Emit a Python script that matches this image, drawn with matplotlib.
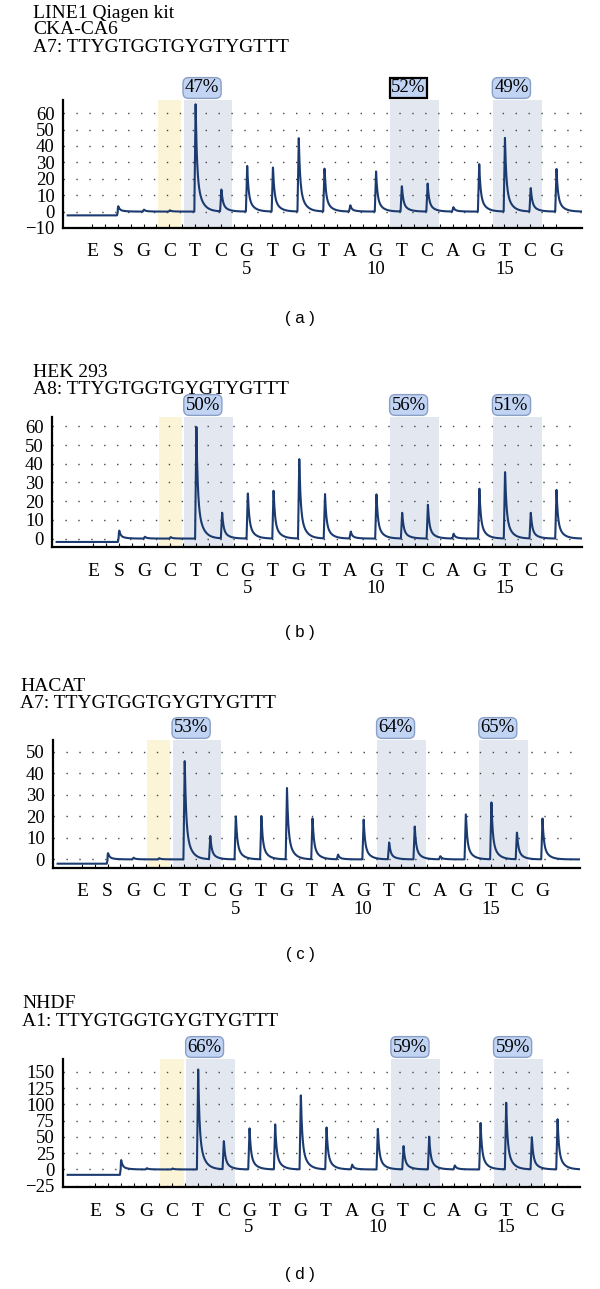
import numpy as np
import matplotlib.pyplot as plt
from matplotlib.transforms import blended_transform_factory

W, H = 600, 1289
SERIF = 'Liberation Serif'

# dispensation order and labels
bases = ['E', 'S', 'G', 'C', 'T', 'C', 'G', 'T', 'G', 'T', 'A', 'G', 'T', 'C', 'A', 'G', 'T', 'C', 'G']
pos = np.arange(1, len(bases) + 1)
numbered = {7: '5', 12: '10', 17: '15'}

# panel texts
titles = [
    ['LINE1 Qiagen kit', 'CKA-CA6', 'A7: TTYGTGGTGYGTYGTTT'],
    ['HEK 293', 'A8: TTYGTGGTGYGTYGTTT'],
    ['HACAT', 'A7: TTYGTGGTGYGTYGTTT'],
    ['NHDF', 'A1: TTYGTGGTGYGTYGTTT'],
]
captions = ['( a )', '( b )', '( c )', '( d )']

# peak heights per dispensation (E .. G)
heights_a = [0, 3.3, 1.2, 0.8, 65.8, 13.8, 28, 27.6, 45.6, 26.4, 3.9, 24.5, 16, 17.3, 2.7, 29.7, 45, 14.8, 26.2]
heights_b = [0, 4.4, 1.0, 0.8, 60, 14, 25, 26.3, 42.8, 23.9, 3.8, 24.6, 14.1, 18.1, 2.6, 27.4, 37, 14, 26]
heights_c = [0, 3.0, 0.8, 0.6, 46.7, 10.9, 20.8, 20.3, 33.8, 19.7, 2.2, 19, 8, 15.4, 1.5, 21.2, 26.9, 12.9, 19]
heights_d = [0, 14.5, 2, 1.5, 154, 44.6, 64.8, 69.4, 117, 66.3, 7.3, 64, 37, 50.8, 6.2, 74, 103.6, 50.3, 80]
heights = [heights_a, heights_b, heights_c, heights_d]

# level of the trace before the substrate step
start_level = [-2.3, -1.8, -2.0, -8.3]

# methylation percentages for the three CpG sites
pct = [['47%', '52%', '49%'], ['50%', '56%', '51%'], ['53%', '64%', '65%'], ['66%', '59%', '59%']]
highlighted = [(0, 1)]  # panel a, second site drawn with black frame

yticks = [np.arange(-10, 61, 10), np.arange(0, 61, 10), np.arange(0, 51, 10), np.arange(-25, 151, 25)]
ylims = [(-10, 68), (-4.5, 65), (-4, 55.5), (-27, 170)]

# pixel layout: left, right, top, bottom, E x, last G x, title x, title y's, caption y
layout = [
    (63, 582, 100, 228, 92, 556, 33, [14, 30, 47], 318),
    (52, 582, 417, 547, 93, 556, 33, [373, 390], 633),
    (53, 580, 740, 868, 82, 542, 20, [686, 703], 955),
    (63, 580, 1059, 1187, 95, 557, 22, [1004, 1022], 1275),
]

site_start = [4.55, 12.55, 16.55]
site_width = 1.9
ref_start, ref_end = 3.55, 4.45

fig = plt.figure(figsize=(W / 100, H / 100), dpi=100)

for k in range(4):
    left, right, top, bottom, ex, gx, tx, tys, cy = layout[k]
    unit = (gx - ex) / 18.0
    xlo = 1 - (ex - left) / unit
    xhi = 19 + (right - gx) / unit
    ax = fig.add_axes([left / W, 1 - bottom / H, (right - left) / W, (bottom - top) / H])
    ax.set_xlim(xlo, xhi)
    ax.set_ylim(*ylims[k])

    # shaded regions
    ax.axvspan(ref_start, ref_end, color='#fcf4d6', zorder=0, lw=0)
    for s in site_start:
        ax.axvspan(s, s + site_width, color='#e3e8f0', zorder=0, lw=0)

    # pyrogram trace built from the peak heights
    x = np.linspace(xlo + 0.18, xhi, 4000)
    y = np.where(x < 2, start_level[k], 0.0)
    for p, h in zip(pos, heights[k]):
        t = x - p
        rise = np.clip((t + 0.03) / 0.05, 0, 1)
        decay = np.where(t > 0.02, 0.65 * np.exp(-(t - 0.02) / 0.05) + 0.35 * np.exp(-(t - 0.02) / 0.2), 1.0)
        y = y + h * rise * decay
    ax.plot(x, y, color='#1b3b70', lw=1.5, zorder=3)

    # axes style
    for side in ['top', 'right']:
        ax.spines[side].set_visible(False)
    for side in ['left', 'bottom']:
        ax.spines[side].set_linewidth(1.6)
    ax.set_yticks(yticks[k])
    ax.set_yticklabels([('\u2212' + str(-v)) if v < 0 else str(v) for v in yticks[k]],
                       family=SERIF, fontsize=13.5)
    ax.tick_params(axis='y', length=0, pad=6)
    ax.set_xticks(pos)
    ax.set_xticks(pos[:-1] + 0.5, minor=True)
    ax.set_xticklabels([])
    ax.tick_params(axis='x', which='both', direction='in', length=3, width=0.8)
    ax.yaxis.grid(True, linestyle=(0, (1, 8.3)), color='#444444', lw=1.0)
    ax.set_axisbelow(True)

    # base letters and cycle numbers under the axis
    tr = blended_transform_factory(ax.transData, fig.transFigure)
    for p, b in zip(pos, bases):
        ax.text(p, 1 - (bottom + 24) / H, b, transform=tr, ha='center', va='center',
                family=SERIF, fontsize=14)
        if p in numbered:
            ax.text(p, 1 - (bottom + 41) / H, numbered[p], transform=tr, ha='center', va='center',
                    family=SERIF, fontsize=13.5)

    # percentage boxes
    for j, s in enumerate(site_start):
        if (k, j) in highlighted:
            bbox = dict(boxstyle='square,pad=0.08', fc='#c2d4f3', ec='black', lw=1.6)
        else:
            bbox = dict(boxstyle='round,pad=0.1,rounding_size=0.3', fc='#c2d4f3', ec='#8a9fc6', lw=1.0)
        ax.text(s + 0.72, 1 - (top - 12) / H, pct[k][j], transform=tr, ha='center', va='center',
                family=SERIF, fontsize=13.5, bbox=bbox, clip_on=False)

    # header lines and caption
    for line, ty in zip(titles[k], tys):
        fig.text(tx / W, 1 - ty / H, line, ha='left', va='center', family=SERIF, fontsize=14)
    fig.text(300 / W, 1 - cy / H, captions[k], ha='center', va='center',
             family='Liberation Sans', fontsize=12)

fig.savefig('out.png', dpi=100)
